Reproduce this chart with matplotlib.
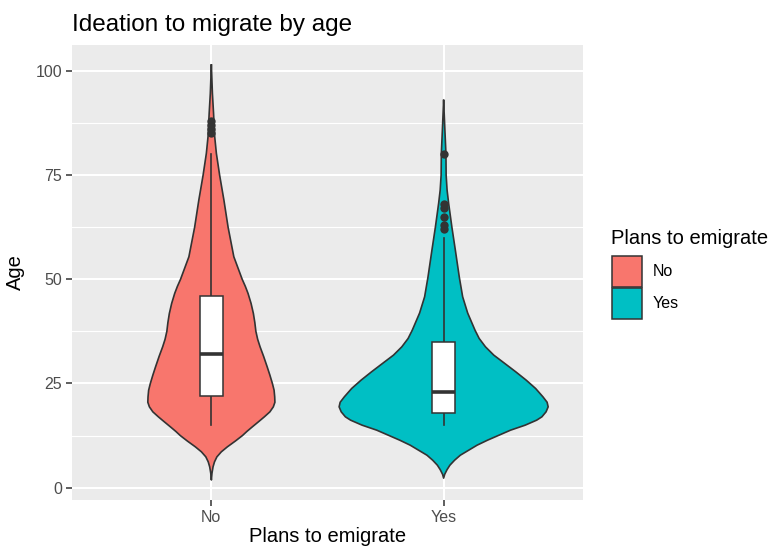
import numpy as np
import matplotlib
matplotlib.use("Agg")
import matplotlib.pyplot as plt
from matplotlib.patches import Rectangle

plt.rcParams['font.family'] = ['Liberation Sans', 'DejaVu Sans']

# ---- data -------------------------------------------------------------
categories = ["No", "Yes"]
fill_colors = ["#F8766D", "#00BFC4"]

# violin outlines: age grid and relative density (widest point = 1)
no_age = [101.4, 94.6, 89.8, 84.2, 80.2, 75.0, 69.0, 62.5, 55.4, 50.0, 48.3,
          46.6, 44.2, 41.8, 39.6, 37.5, 35.6, 33.8, 31.5, 29.0, 27.0, 25.0,
          23.4, 21.8, 20.5, 19.4, 18.2, 17.0, 15.8, 14.6, 13.5, 12.5, 11.2,
          9.8, 8.6, 7.4, 6.2, 5.0, 3.5, 1.85]
no_density = [0.0, 0.010, 0.021, 0.032, 0.048, 0.079, 0.120, 0.160, 0.215,
              0.295, 0.325, 0.351, 0.380, 0.402, 0.416, 0.426, 0.443, 0.466,
              0.500, 0.534, 0.560, 0.584, 0.600, 0.606, 0.608, 0.593, 0.560,
              0.507, 0.450, 0.392, 0.340, 0.297, 0.230, 0.153, 0.095, 0.053,
              0.030, 0.016, 0.006, 0.0]

yes_age = [92.9, 85.8, 80.2, 75.0, 71.4, 68.2, 62.5, 57.0, 50.5, 45.8, 41.9,
           37.8, 35.8, 33.8, 31.8, 29.9, 27.8, 25.8, 23.8, 21.8, 20.5, 19.4,
           18.2, 17.0, 16.2, 15.0, 13.8, 12.6, 11.4, 10.2, 9.0, 7.8, 6.6, 5.4,
           4.3, 3.2, 2.3]
yes_density = [0.0, 0.012, 0.022, 0.024, 0.033, 0.048, 0.079, 0.112, 0.150,
               0.182, 0.230, 0.300, 0.340, 0.400, 0.480, 0.580, 0.690, 0.790,
               0.880, 0.950, 0.990, 1.000, 0.980, 0.940, 0.890, 0.780, 0.640,
               0.530, 0.420, 0.320, 0.240, 0.160, 0.105, 0.060, 0.032, 0.010,
               0.0]

# boxplot statistics: lower whisker, Q1, median, Q3, upper whisker
no_box = [15, 22, 32, 46, 80]
yes_box = [15, 18, 23, 35, 60]
no_outliers = [85, 86, 87, 88]
yes_outliers = [62, 63, 65, 67, 68, 80]

y_ticks = [0, 25, 50, 75, 100]
y_minor = [12.5, 37.5, 62.5, 87.5]

# ---- figure -----------------------------------------------------------
W, H = 770, 550
fig = plt.figure(figsize=(W / 100, H / 100), dpi=100)
L, R, T, B = 72, 583, 45, 500
ax = fig.add_axes([L / W, 1 - B / H, (R - L) / W, (B - T) / H])
ax.set_facecolor("#EBEBEB")
for s in ax.spines.values():
    s.set_visible(False)

ax.set_xlim(0.4, 2.6)
ax.set_ylim(-2.95, 106.2)
ax.set_yticks(y_ticks)
ax.set_yticks(y_minor, minor=True)
ax.set_xticks([1, 2])
ax.set_xticklabels(categories)
ax.grid(True, which="major", color="white", linewidth=1.5)
ax.grid(True, which="minor", axis="y", color="white", linewidth=0.8)
ax.set_axisbelow(True)
ax.tick_params(which="major", length=4, width=1.1, color="#333333",
               labelcolor="#4D4D4D", labelsize=11.5, pad=3)
ax.tick_params(which="minor", length=0)

outline = "#333333"
half_max = 0.45
box_half = 0.05

series = [
    (no_age, no_density, no_box, no_outliers),
    (yes_age, yes_density, yes_box, yes_outliers),
]
for i, (ages, dens, box, outl) in enumerate(series):
    xc = i + 1
    ages = np.asarray(ages)
    hw = half_max * np.asarray(dens)
    ax.fill_betweenx(ages, xc - hw, xc + hw, facecolor=fill_colors[i],
                     edgecolor="none", zorder=2)
    ax.plot(np.r_[xc - hw, (xc + hw)[::-1], (xc - hw)[0]],
            np.r_[ages, ages[::-1], ages[0]],
            color=outline, linewidth=1.2, zorder=3,
            solid_joinstyle="round")
    lo, q1, med, q3, hi = box
    ax.plot([xc, xc], [lo, q1], color=outline, linewidth=1.2, zorder=4)
    ax.plot([xc, xc], [q3, hi], color=outline, linewidth=1.2, zorder=4)
    ax.add_patch(Rectangle((xc - box_half, q1), 2 * box_half, q3 - q1,
                           facecolor="white", edgecolor=outline,
                           linewidth=1.1, zorder=5))
    ax.plot([xc - box_half, xc + box_half], [med, med], color=outline,
            linewidth=2.6, zorder=6, solid_capstyle="butt")
    ax.plot([xc] * len(outl), outl, "o", color=outline, markersize=6,
            markeredgewidth=0, zorder=6)

ax.set_xlabel("Plans to emigrate", fontsize=14.5, color="black", labelpad=2)
ax.set_ylabel("Age", fontsize=14.5, color="black", labelpad=8)
ax.set_title("Ideation to migrate by age", fontsize=17.5, color="black",
             loc="left", pad=10)

# ---- legend -----------------------------------------------------------
lg = fig.add_axes([0, 0, 1, 1], facecolor="none")
lg.set_xlim(0, W)
lg.set_ylim(H, 0)
lg.axis("off")
lg.text(611, 238, "Plans to emigrate", fontsize=14.5, va="center",
        ha="left", color="black")
key_top = 256
key_h = 31
for j, lab in enumerate(categories):
    y0 = key_top + j * (key_h + 1)
    lg.add_patch(Rectangle((612, y0), 30, key_h, facecolor=fill_colors[j],
                           edgecolor=outline, linewidth=1.1))
    lg.text(653, y0 + key_h / 2, lab, fontsize=11.5, va="center",
            ha="left", color="black")

fig.savefig("out.png", dpi=100)
